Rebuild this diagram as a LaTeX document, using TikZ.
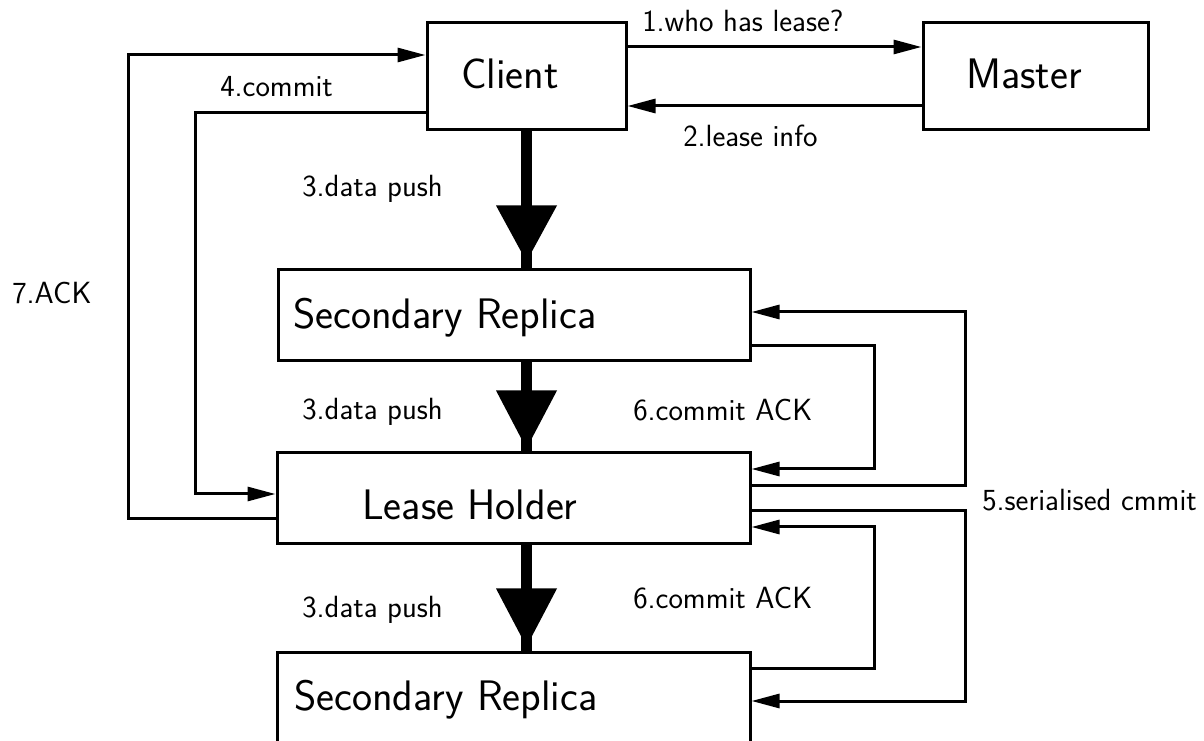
\documentclass[tikz,border=0pt]{standalone}
\usepackage{fontspec}
\usetikzlibrary{arrows.meta,calc}
\begin{document}
\begin{tikzpicture}[x=0.75pt,y=-0.75pt,
  box/.style={draw, line width=2.25pt, inner sep=0pt, minimum height=68.25pt},
  big/.style={font=\sffamily\fontsize{32}{38}\selectfont, inner sep=0pt, anchor=base west},
  small/.style={font=\sffamily\fontsize{23}{28}\selectfont, inner sep=0pt, anchor=base west},
  conn/.style={line width=2.25pt, -{Triangle[length=21pt,width=10.5pt]}},
  shaft/.style={line width=8.6pt},
  headtip/.style={fill=black}]
\useasboundingbox (0,0) rectangle (1204,741);

% boxes
\node[box, minimum width=149.25pt, minimum height=80.25pt] (client) at (526.5,76.5) {};
\node[box, minimum width=168.75pt, minimum height=80.25pt] (master) at (1035.5,76.5) {};
\node[box, minimum width=354pt] (sr1) at (514,315.5) {};
\node[box, minimum width=354.75pt] (lh) at (513.5,498.5) {};
\node[box, minimum width=354.75pt] (sr2) at (513.5,697.5) {};

% box texts
\node[big] (clientT) at (461,89) {Client};
\node[big] (masterT) at (966,89) {Master};
\node[big] (sr1T) at (293,329) {Secondary Replica};
\node[big] (lhT) at (362,520) {Lease Holder};
\node[big] (sr2T) at (294,710) {Secondary Replica};

% labels
\node[small] (l1) at (642,32) {1.who has lease?};
\node[small] (l2) at (683,147) {2.lease info};
\node[small] (l3a) at (302,197) {3.data push};
\node[small] (l3b) at (302,420) {3.data push};
\node[small] (l3c) at (302,618) {3.data push};
\node[small] (l4) at (220,97) {4.commit};
\node[small] (l7) at (12,304) {7.ACK};
\node[small] (l6a) at (633,421) {6.commit ACK};
\node[small] (l6b) at (633,609) {6.commit ACK};
\node[small] (l5) at (982,511) {5.serialised cmmit};

% thin connectors
\draw[conn] (client.east |- 0,47) -- (master.west |- 0,47);
\draw[conn] (master.west |- 0,106) -- (client.east |- 0,106);
\draw[conn] (client.west |- 0,113) -| (195,494) -- (lh.west |- 0,494);
\draw[conn] (lh.west |- 0,519) -| (128,55) -- (client.west |- 0,55);
\draw[conn] (sr1.east |- 0,346) -| (874,469) -- (lh.east |- 0,469);
\draw[conn] (lh.east |- 0,486) -| (965,312) -- (sr1.east |- 0,312);
\draw[conn] (lh.east |- 0,511) -| (965,701) -- (sr2.east |- 0,701);
\draw[conn] (sr2.east |- 0,668) -| (874,527) -- (lh.east |- 0,527);

% thick data push arrows
\draw[shaft] (client.south) -- (client.south |- sr1.north);
\fill[headtip] ($(client.south |- sr1.north)+(0,-7)$) -- ++(-30.5,-56) -- ++(61,0) -- cycle;
\draw[shaft] (client.south |- sr1.south) -- (client.south |- lh.north);
\fill[headtip] ($(client.south |- lh.north)+(0,-3)$) -- ++(-30.5,-58) -- ++(61,0) -- cycle;
\draw[shaft] (client.south |- lh.south) -- (client.south |- sr2.north);
\fill[headtip] ($(client.south |- sr2.north)+(0,-4)$) -- ++(-30.5,-58) -- ++(61,0) -- cycle;
\end{tikzpicture}
\end{document}
